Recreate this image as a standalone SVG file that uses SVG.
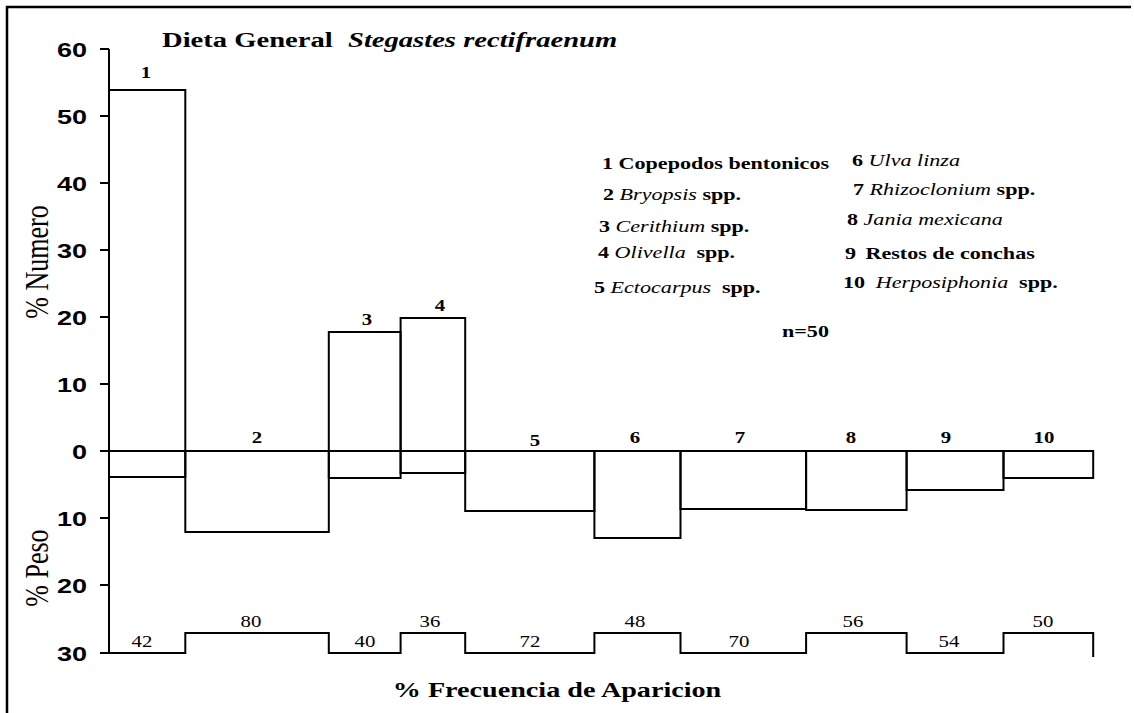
<svg xmlns="http://www.w3.org/2000/svg" width="1134" height="713" viewBox="0 0 1134 713">
<style>
.ln{fill:none;stroke:#000;stroke-width:2;stroke-linejoin:miter}
.tick{font-family:"Liberation Sans",Arial,sans-serif;font-weight:bold;font-size:20px;text-anchor:end;fill:#000}
.lab{font-family:"Liberation Serif","Times New Roman",serif;font-weight:bold;font-size:16px;text-anchor:middle;fill:#000}
.frq{font-family:"Liberation Serif","Times New Roman",serif;font-size:16px;text-anchor:middle;fill:#000}
.leg{font-family:"Liberation Serif","Times New Roman",serif;font-weight:bold;font-size:17px;fill:#000}
.it{font-style:italic;font-weight:normal}
.ttl{font-family:"Liberation Serif","Times New Roman",serif;font-weight:bold;font-size:22px;fill:#000}
.ax{font-family:"Liberation Serif","Times New Roman",serif;font-size:26px;text-anchor:middle;fill:#000}
</style>
<rect width="1134" height="713" fill="#fff"/>
<path d="M7,713 V7 H1131" fill="none" stroke="#000" stroke-width="2.5"/>

<g id="title">
<text class="ttl" transform="translate(162 47) scale(1.3 1)">Dieta General</text>
<text class="ttl" font-style="italic" transform="translate(348 47) scale(1.3 1)">Stegastes rectifraenum</text>
</g>

<g id="axis">
<path class="ln" d="M109,49 V653 M100,49 H109 M100,116 H109 M100,183 H109 M100,250 H109 M100,317 H109 M100,384 H109 M100,518 H109 M100,585 H109 M100,653 H109 M100,451 H1093"/>
<text class="tick" transform="translate(87 56.5) scale(1.35 1)">60</text>
<text class="tick" transform="translate(87 123.5) scale(1.35 1)">50</text>
<text class="tick" transform="translate(87 190.5) scale(1.35 1)">40</text>
<text class="tick" transform="translate(87 257.5) scale(1.35 1)">30</text>
<text class="tick" transform="translate(87 324.5) scale(1.35 1)">20</text>
<text class="tick" transform="translate(87 391.5) scale(1.35 1)">10</text>
<text class="tick" transform="translate(87 458.5) scale(1.35 1)">0</text>
<text class="tick" transform="translate(87 525.5) scale(1.35 1)">10</text>
<text class="tick" transform="translate(87 592.5) scale(1.35 1)">20</text>
<text class="tick" transform="translate(87 660.5) scale(1.35 1)">30</text>
<text class="ax" transform="translate(48 262) scale(1.3 1) rotate(-90)">% Numero</text>
<text class="ax" transform="translate(48 568) scale(1.3 1) rotate(-90)">% Peso</text>
<text class="ttl" text-anchor="middle" transform="translate(557 697) scale(1.28 1)">% Frecuencia de Aparicion</text>
</g>

<g id="bars">
<g id="bar1"><rect class="ln" x="109" y="90" width="76.3" height="387"/><text class="lab" transform="translate(146 78) scale(1.3 1)">1</text></g>
<g id="bar2"><rect class="ln" x="185.3" y="451" width="143.5" height="81"/><text class="lab" transform="translate(257 443) scale(1.3 1)">2</text></g>
<g id="bar3"><rect class="ln" x="328.8" y="332" width="71.8" height="146"/><text class="lab" transform="translate(367 325) scale(1.3 1)">3</text></g>
<g id="bar4"><rect class="ln" x="400.6" y="318" width="64.6" height="155"/><text class="lab" transform="translate(440 311) scale(1.3 1)">4</text></g>
<g id="bar5"><rect class="ln" x="465.2" y="451" width="129.2" height="60"/><text class="lab" transform="translate(535 446) scale(1.3 1)">5</text></g>
<g id="bar6"><rect class="ln" x="594.4" y="451" width="86.1" height="87"/><text class="lab" transform="translate(635 443) scale(1.3 1)">6</text></g>
<g id="bar7"><rect class="ln" x="680.5" y="451" width="125.6" height="58"/><text class="lab" transform="translate(740 443) scale(1.3 1)">7</text></g>
<g id="bar8"><rect class="ln" x="806.1" y="451" width="100.5" height="59"/><text class="lab" transform="translate(851 443) scale(1.3 1)">8</text></g>
<g id="bar9"><rect class="ln" x="906.6" y="451" width="96.9" height="39"/><text class="lab" transform="translate(946 443) scale(1.3 1)">9</text></g>
<g id="bar10"><rect class="ln" x="1003.5" y="451" width="89.7" height="27"/><text class="lab" transform="translate(1044 443) scale(1.3 1)">10</text></g>
</g>

<g id="frequency">
<path class="ln" d="M109,653 H185.3 V633 H328.8 V653 H400.6 V633 H465.2 V653 H594.4 V633 H680.5 V653 H806.1 V633 H906.6 V653 H1003.5 V633 H1093.2 V657"/>
<text class="frq" transform="translate(142 647) scale(1.3 1)">42</text>
<text class="frq" transform="translate(251 627) scale(1.3 1)">80</text>
<text class="frq" transform="translate(365 647) scale(1.3 1)">40</text>
<text class="frq" transform="translate(430 627) scale(1.3 1)">36</text>
<text class="frq" transform="translate(530 647) scale(1.3 1)">72</text>
<text class="frq" transform="translate(635 627) scale(1.3 1)">48</text>
<text class="frq" transform="translate(739 647) scale(1.3 1)">70</text>
<text class="frq" transform="translate(853 627) scale(1.3 1)">56</text>
<text class="frq" transform="translate(949 647) scale(1.3 1)">54</text>
<text class="frq" transform="translate(1043 627) scale(1.3 1)">50</text>
</g>

<g id="legend">
<text class="leg" transform="translate(602 169) scale(1.3 1)">1 Copepodos bentonicos</text>
<text class="leg" transform="translate(603 200) scale(1.3 1)">2 <tspan class="it">Bryopsis</tspan> spp.</text>
<text class="leg" transform="translate(599 232) scale(1.3 1)">3 <tspan class="it">Cerithium</tspan> spp.</text>
<text class="leg" transform="translate(598 258) scale(1.3 1)">4 <tspan class="it">Olivella</tspan><tspan dx="4"> spp.</tspan></text>
<text class="leg" transform="translate(594 293) scale(1.3 1)">5 <tspan class="it">Ectocarpus</tspan><tspan dx="4"> spp.</tspan></text>
<text class="leg" transform="translate(852 166) scale(1.3 1)">6 <tspan class="it">Ulva linza</tspan></text>
<text class="leg" transform="translate(853 195) scale(1.3 1)">7 <tspan class="it">Rhizoclonium</tspan> spp.</text>
<text class="leg" transform="translate(847 225) scale(1.3 1)">8 <tspan class="it">Jania mexicana</tspan></text>
<text class="leg" transform="translate(845 259) scale(1.3 1)">9 <tspan dx="3">Restos de conchas</tspan></text>
<text class="leg" transform="translate(843 288) scale(1.3 1)">10 <tspan class="it" dx="4">Herposiphonia</tspan><tspan dx="4"> spp.</tspan></text>
<text class="leg" transform="translate(782 337) scale(1.3 1)">n=50</text>
</g>
</svg>
